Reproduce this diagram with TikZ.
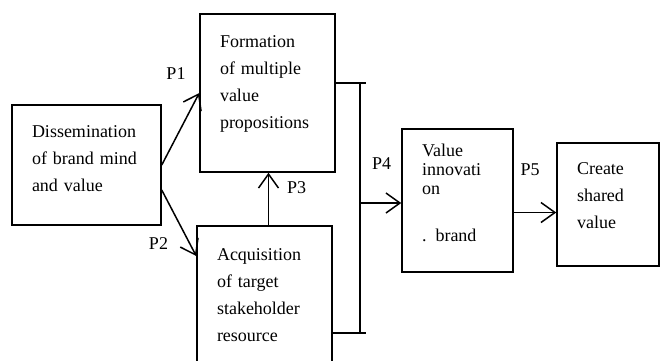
\documentclass[tikz,border=0pt]{standalone}
\usepackage{fontspec}
\setmainfont{Liberation Serif}
\usetikzlibrary{arrows.meta}
\tikzset{
  box/.style={draw,rectangle,line width=1.5pt,align=left,inner xsep=20pt,inner ysep=0pt,
    font=\fontsize{18}{27}\selectfont},
  tag/.style={inner sep=0pt,font=\fontsize{18}{27}\selectfont},
  arr/.style={line width=1.5pt,-{Straight Barb[length=14pt,width=20pt]}},
  bar/.style={line width=1.5pt}
}
\begin{document}
\begin{tikzpicture}[x=1pt,y=-1pt]
\useasboundingbox (0,0) rectangle (660,360);
 % boxes
  \node (diss) at (86.5,165) [box,text width=109pt,minimum height=120pt] {Dissemination\\of brand mind\\and value\\[-15pt]\mbox{}};
  \node (form) at (267.5,93) [box,text width=95pt,minimum height=158pt] {Formation\\of multiple\\value\\propositions\\[-5pt]\mbox{}};
  \node (acq) at (264.5,295) [box,text width=95pt,minimum height=138pt] {Acquisition\\of target\\stakeholder\\resource};
  \node (val) at (457.5,200.5) [box,text width=71pt,minimum height=143pt,font=\fontsize{18}{19}\selectfont] {Value\\innovati\\on\\[28pt]. brand\\[-3pt]\mbox{}};
  \node (cre) at (608,204.5) [box,text width=62pt,minimum height=123pt] {Create\\shared\\value\\[-9pt]\mbox{}};
 % labels
  \node (p1) at (176,74) [tag] {P1};
  \node (p2) at (158.5,244) [tag] {P2};
  \node (p3) at (296.5,187.5) [tag] {P3};
  \node (p4) at (381.5,164) [tag] {P4};
  \node (p5) at (530,169.5) [tag] {P5};
 % bracket
  \coordinate (jt) at (360,83);
  \coordinate (jb) at (360,333);
  \draw[bar] (form.east |- jt) -- ([xshift=6pt]jt);
  \draw[bar] (acq.east |- jb) -- ([xshift=6pt]jb);
  \draw[bar] (jt) -- (jb);
 % arrows
  \path[arr] (diss.east) edge (form.west);
  \path[arr] ([yshift=-25pt]diss.east) edge ([yshift=39pt]acq.west);
  \path[arr] ([xshift=4pt]acq.north) edge ([xshift=4pt]acq.north |- form.south);
  \path[arr] ([yshift=-2.5pt]jt |- val.west) edge ([yshift=-2.5pt]val.west);
  \path[arr] ([yshift=-12pt]val.east) edge ([yshift=-12pt]val.east -| cre.west);
\end{tikzpicture}
\end{document}
